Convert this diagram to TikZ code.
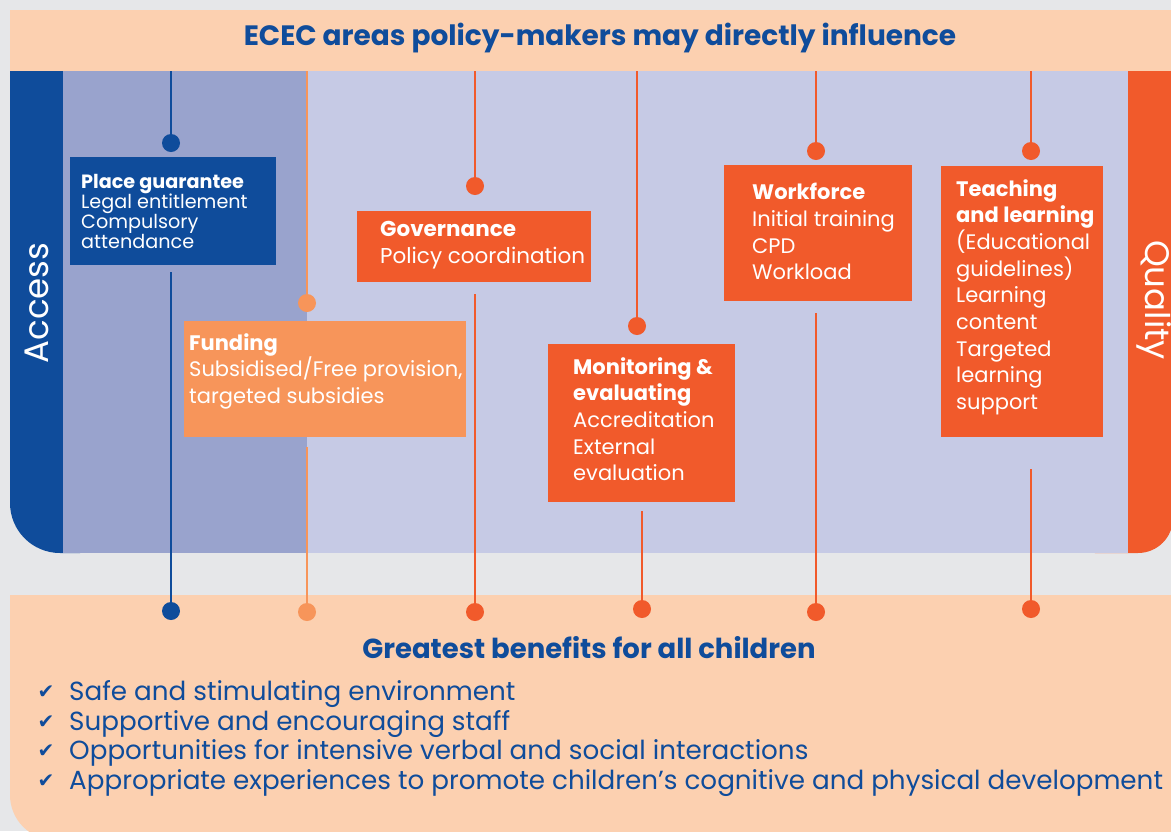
\documentclass[tikz,border=0pt]{standalone}
\usepackage{fontspec}
\setmainfont{Poppins}
\newfontfamily\checkfont{DejaVu Sans}
\definecolor{bggray}{HTML}{E6E7E9}
\definecolor{peach}{HTML}{FCD0B0}
\definecolor{ecblue}{HTML}{0F4C9B}
\definecolor{lavdark}{HTML}{99A3CD}
\definecolor{lavlight}{HTML}{C6CAE5}
\definecolor{ecorange}{HTML}{F15A2B}
\definecolor{eclight}{HTML}{F7955A}
\begin{document}
\begin{tikzpicture}[x=1pt,y=-1pt,
  dot/.style={circle,inner sep=0pt,minimum size=18pt,fill=#1},
  link/.style={line width=2.2pt,draw=#1},
  area/.style={anchor=north west,inner sep=0pt,fill=#1},
  areatext/.style={anchor=north west,inner sep=0pt,align=left,text=white,
    font=\fontsize{21}{26.7}\selectfont},
  listtext/.style={anchor=base west,inner sep=0pt,text=ecblue,
    font=\fontsize{26.2}{29.5}\selectfont}]
  \useasboundingbox (0,0) rectangle (1171,831);
  \clip (0,0) rectangle (1171,831);
  \fill[bggray] (0,0) rectangle (1171,831);
  % bands
  \fill[ecblue,rounded corners=50pt] (10,-100) rectangle (130,553);
  \fill[ecorange,rounded corners=35pt] (1060,-100) rectangle (1173,553);
  \fill[lavdark] (63,71) rectangle (307,553);
  \fill[lavlight] (307,71) rectangle (1128,553);
  \fill[bggray] (0,0) rectangle (1171,10);
  \fill[peach] (10,10) rectangle (1200,71);
  \fill[peach,rounded corners=45pt] (10,595) rectangle (1220,840);
  \fill[peach] (10,595) rectangle (1220,720);
  \node[font=\fontsize{28}{30}\selectfont\bfseries,text=ecblue] (title)
    at (600,38) {ECEC areas policy-makers may directly influence};
  \node[rotate=90,anchor=base,text=white,font=\fontsize{34}{34}\selectfont]
    (access) at (48,303) {Access};
  \node[rotate=-90,anchor=base,text=white,font=\fontsize{34}{34}\selectfont]
    (quality) at (1145,300) {Quality};

  % place guarantee
  \node[area=ecblue,minimum width=206pt,minimum height=108pt] (pg) at (70,157) {};
  \node[areatext,font=\fontsize{19.2}{20}\selectfont] (pgtext) at (81,174)
    {\textbf{Place guarantee}\\Legal entitlement\\Compulsory\\attendance};
  \node[dot=ecblue] (pgtop) at (171,143) {};
  \node[dot=ecblue] (pgend) at (171,611) {};
  \coordinate (pgin) at (171,71);
  \coordinate (pgout) at (171,272);
  \draw[link=ecblue] (pgin) -- (pgtop);
  \draw[link=ecblue] (pgout) -- (pgend);

  % funding
  \node[area=eclight,minimum width=282pt,minimum height=116pt] (fund) at (184,321) {};
  \node[areatext] (fundtext) at (189,333)
    {\textbf{Funding}\\Subsidised/Free provision,\\targeted subsidies};
  \node[dot=eclight] (fundtop) at (307,303) {};
  \node[dot=eclight] (fundend) at (307,612) {};
  \coordinate (fundin) at (307,71);
  \coordinate (fundout) at (307,447);
  \draw[link=eclight] (fundin) -- (fundtop);
  \draw[link=eclight] (fundout) -- (fundend);

  % governance
  \node[area=ecorange,minimum width=234pt,minimum height=71pt] (gov) at (357,211) {};
  \node[areatext,font=\fontsize{21.5}{26.7}\selectfont] (govtext) at (380,221)
    {\textbf{Governance}\\Policy coordination};
  \node[dot=ecorange] (govtop) at (475,186) {};
  \node[dot=ecorange] (govend) at (475,612) {};
  \coordinate (govin) at (475,71);
  \coordinate (govout) at (475,294);
  \draw[link=ecorange] (govin) -- (govtop);
  \draw[link=ecorange] (govout) -- (govend);

  % monitoring
  \node[area=ecorange,minimum width=187pt,minimum height=158pt] (mon) at (548,344) {};
  \node[areatext] (montext) at (573,357)
    {\textbf{Monitoring \&}\\\textbf{evaluating}\\Accreditation\\External\\evaluation};
  \node[dot=ecorange] (montop) at (637,326) {};
  \node[dot=ecorange] (monend) at (642,609) {};
  \coordinate (monin) at (637,71);
  \coordinate (monout) at (642,511);
  \draw[link=ecorange] (monin) -- (montop);
  \draw[link=ecorange] (monout) -- (monend);

  % workforce
  \node[area=ecorange,minimum width=188pt,minimum height=136pt] (work) at (724,165) {};
  \node[areatext] (worktext) at (752,183)
    {\textbf{Workforce}\\Initial training\\CPD\\Workload};
  \node[dot=ecorange] (worktop) at (816,151) {};
  \node[dot=ecorange] (workend) at (816,612) {};
  \coordinate (workin) at (816,71);
  \coordinate (workout) at (816,313);
  \draw[link=ecorange] (workin) -- (worktop);
  \draw[link=ecorange] (workout) -- (workend);

  % teaching and learning
  \node[area=ecorange,minimum width=162pt,minimum height=271pt] (teach) at (941,166) {};
  \node[areatext] (teachtext) at (956,179)
    {\textbf{Teaching}\\\textbf{and learning}\\(Educational\\guidelines)\\Learning\\content\\Targeted\\learning\\support};
  \node[dot=ecorange] (teachtop) at (1031,151) {};
  \node[dot=ecorange] (teachend) at (1031,609) {};
  \coordinate (teachin) at (1031,71);
  \coordinate (teachout) at (1031,469);
  \draw[link=ecorange] (teachin) -- (teachtop);
  \draw[link=ecorange] (teachout) -- (teachend);

  % benefits
  \node[font=\fontsize{27.5}{29}\selectfont\bfseries,text=ecblue] (benefits)
    at (589,648) {Greatest benefits for all children};
  \foreach \txt [count=\i] in {Safe and stimulating environment,
      Supportive and encouraging staff,
      Opportunities for intensive verbal and social interactions,
      Appropriate experiences to promote children’s cognitive and physical development}
  {
    \node[text=ecblue,font=\checkfont\bfseries\fontsize{20}{20}\selectfont,inner sep=0pt]
      (check\i) at (46,{663+29.5*\i}) {✔};
    \node[listtext] (item\i) at (69,{671+29.5*\i}) {\txt};
  }
\end{tikzpicture}
\end{document}
